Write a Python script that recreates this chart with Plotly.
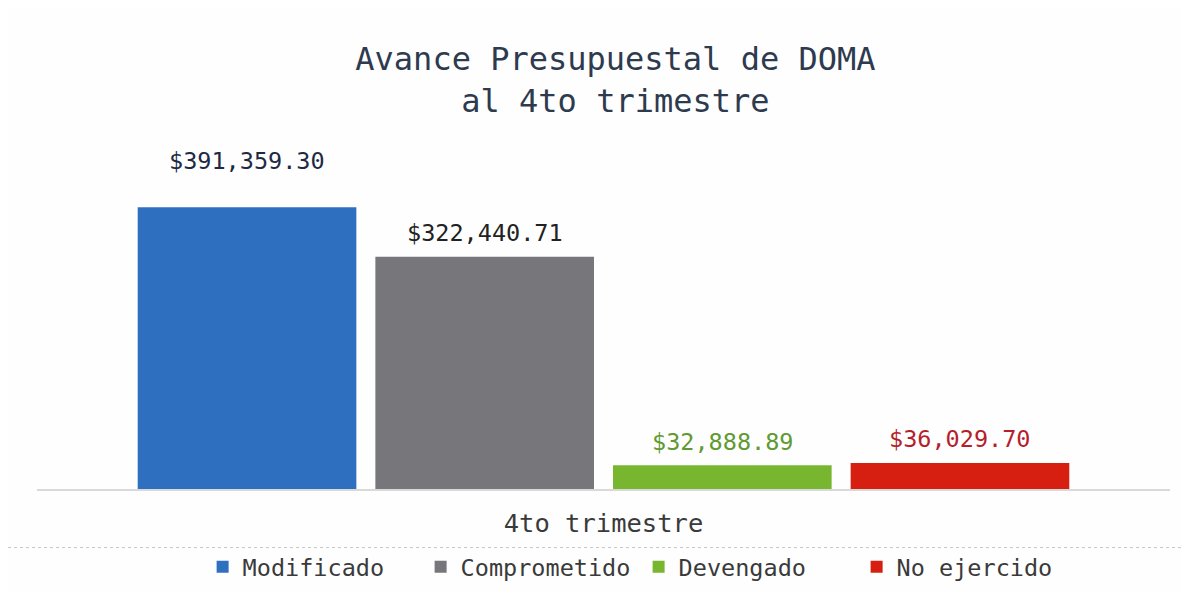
import plotly.graph_objects as go

categoria = ["4to trimestre"]
series = ["Modificado", "Comprometido", "Devengado", "No ejercido"]
valores = [391359.30, 322440.71, 32888.89, 36029.70]
etiquetas = ["$391,359.30", "$322,440.71", "$32,888.89", "$36,029.70"]
colores = ["#2f6fc0", "#77767a", "#78b62f", "#d61f10"]
colores_texto = ["#1e2a44", "#222222", "#5f9a33", "#b51f2c"]
desplaz_y = [30, 8, 7, 8]

W, H = 1191, 593
ml, mr, mt, mb = 29, 29, 130, 103
bargap, bargroupgap = 0.161, 0.08
slot = (W - ml - mr) * (1 - bargap) / len(series)

fig = go.Figure()
for nombre, v, c in zip(series, valores, colores):
    fig.add_trace(go.Bar(x=categoria, y=[v], name=nombre, marker=dict(color=c, line=dict(width=0))))

for i, (v, t, ct, dy) in enumerate(zip(valores, etiquetas, colores_texto, desplaz_y)):
    fig.add_annotation(x=categoria[0], y=v, text=t, showarrow=False, yanchor="bottom",
                       xshift=(i - 1.5) * slot, yshift=dy,
                       font=dict(family="DejaVu Sans Mono", size=23.5, color=ct))

# linea punteada del escaneo
fig.add_shape(type="line", xref="paper", yref="paper", x0=-ml / (W - ml - mr), x1=1 + mr / (W - ml - mr),
              y0=-60 / (H - mt - mb), y1=-60 / (H - mt - mb),
              line=dict(color="#c8c8c8", width=1, dash="dot"))

fig.update_layout(
    width=W, height=H,
    margin=dict(l=ml, r=mr, t=mt, b=mb),
    paper_bgcolor="#fefefe", plot_bgcolor="#fefefe",
    barmode="group", bargap=bargap, bargroupgap=bargroupgap,
    title=dict(text="Avance Presupuestal de DOMA<br>al 4to trimestre", x=0.51, xanchor="center",
               y=1 - 62 / H, yanchor="middle", yref="container",
               font=dict(family="DejaVu Sans Mono", size=32, color="#2e3a4e")),
    font=dict(family="DejaVu Sans Mono", color="#333333"),
    xaxis=dict(showline=True, linecolor="#d9d9d9", linewidth=1.5, ticks="", ticklabelstandoff=11,
               tickfont=dict(size=25.5, color="#3a3a3a")),
    yaxis=dict(range=[0, 487400], showticklabels=False, showgrid=False, zeroline=False),
    showlegend=True,
    legend=dict(orientation="h", x=0.531, xanchor="center", y=-80 / (H - mt - mb), yanchor="middle",
                font=dict(size=23.5, color="#3a3a3a"), entrywidth=173, entrywidthmode="pixels",
                itemwidth=30, bgcolor="rgba(0,0,0,0)"),
)

fig.write_html("out.html")
